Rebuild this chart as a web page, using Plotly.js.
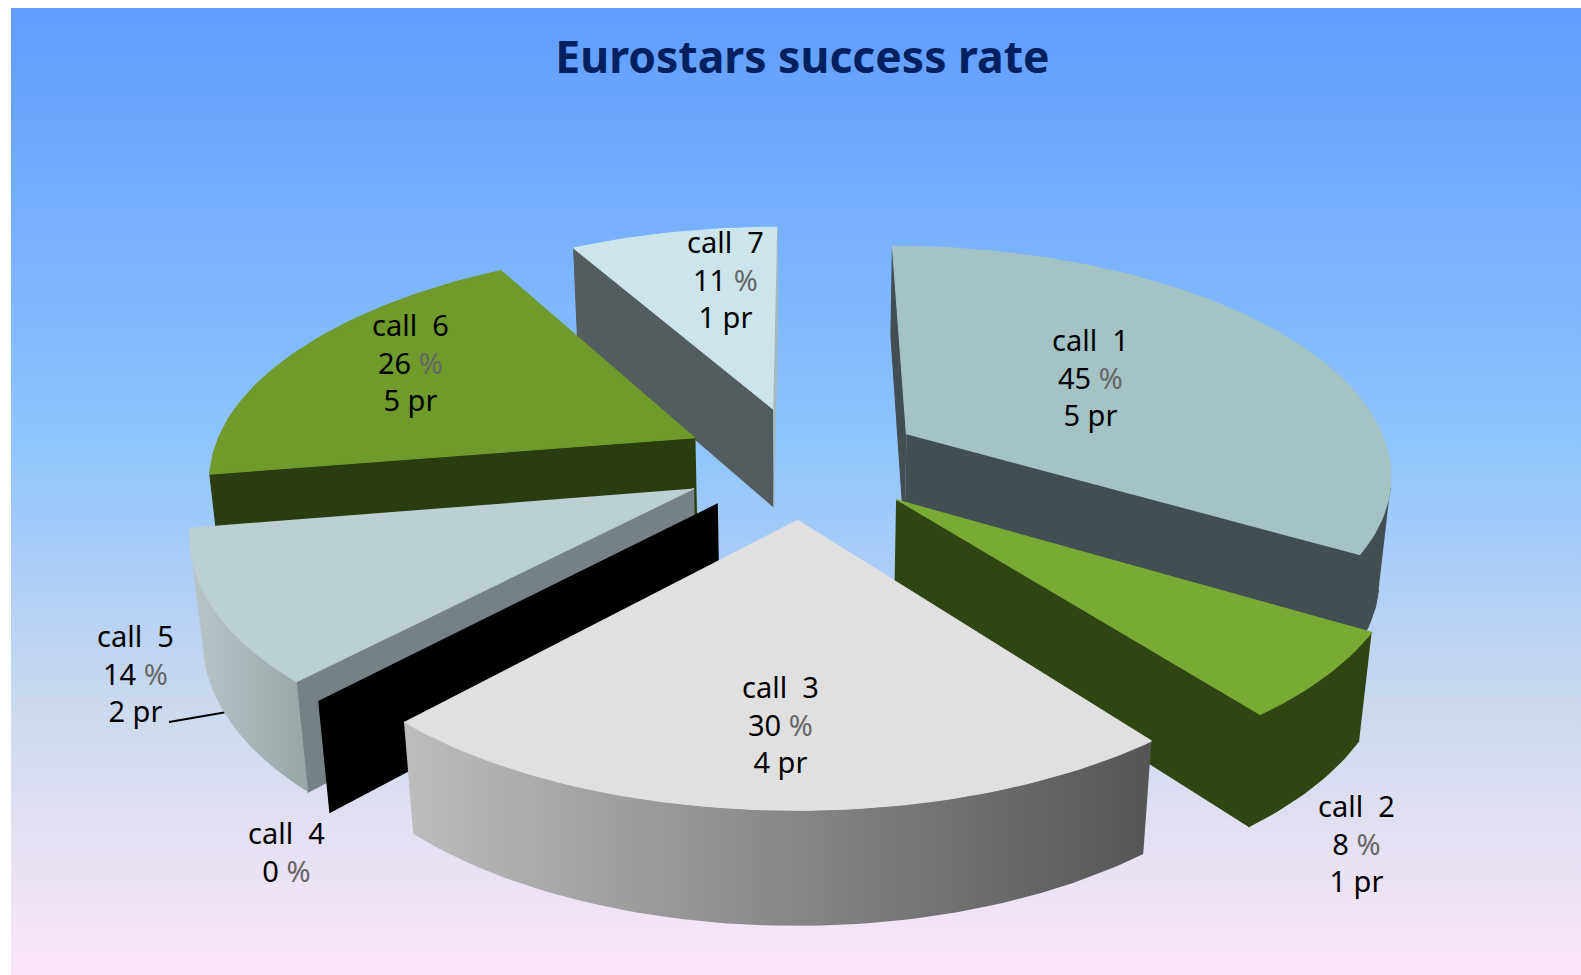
<!DOCTYPE html>
<html><head><meta charset="utf-8">
<script src="https://cdn.plot.ly/plotly-3.0.1.min.js"></script>
<style>
html,body{margin:0;padding:0;background:#fff;width:1581px;height:975px;overflow:hidden}
#bg{position:absolute;left:11px;top:8px;width:1570px;height:967px;background:linear-gradient(to bottom,#5f9dff 0%,#8fc4fd 45%,#cbd9ef 72%,#dfdff0 83%,#fbe7f9 100%)}
#chart{position:absolute;left:0;top:0;width:1581px;height:975px}
</style></head><body>
<div id="bg"></div><div id="chart"></div>
<script>
// ---- data ----
const calls = ['call 1','call 2','call 3','call 4','call 5','call 6','call 7'];
const rates = [45,8,30,0,14,26,11];
const projects = [5,1,4,0,2,5,1];

// ---- styles ----
const topColors = ['#a3c3c5','#78ab35','#e0e0e0','#000000','#bccfd3','#6f9a2c','#cbe5ea'];
const startWall = ['#414f52','#2f4613','#555555','#000000','#758184','#2b3d10','#535c5e'];
const endWall   = ['#414f52','#2f4613','#555555','#000000','#758184','#2b3d10','#a5babd'];
const rimLeft   = ['#414f52','#2f4613','#bdbdbd','#000000','#b8c6ca','#2b3d10','#a5babd'];
const rimRight  = ['#414f52','#2f4613','#555555','#000000','#98a6a6','#2b3d10','#a5babd'];
const paintOrder = [6,5,0,4,3,1,2];
const labelPos = [[1090,377],[1356,843],[780,724],[286,851],[135,673],[410,362],[725,279]];

// ---- projection of the tilted disc ----
const P = {cx:803, cy:461.5, B:485, A:225, k:0.155, kx:0.16, m:0.02, D:102.5, explode:0.25, start:0};
function proj(X,Y,Z){
  const s = 1/(1+P.k*Y+P.m*Z), sx = 1/(1+P.kx*Y+P.m*Z);
  return [P.cx+P.B*X*sx, P.cy-P.A*Y*s+P.D*Z*s];
}
const total = rates.reduce((a,b)=>a+b,0);
let acc = P.start;
const traces = [];
function poly(pts,color,grad){
  const t = {type:'scatter',mode:'lines',x:pts.map(p=>p[0]),y:pts.map(p=>p[1]),
    fill:'toself',line:{width:grad?0:1.1,color:color},hoverinfo:'skip',showlegend:false};
  if(grad) t.fillgradient={type:'horizontal',colorscale:[[0,grad[0]],[1,grad[1]]]};
  else t.fillcolor=color;
  return t;
}
function area(p){
  let s=0;
  for(let i=0;i<p.length;i++){const q=p[(i+1)%p.length]; s+=p[i][0]*q[1]-q[0]*p[i][1];}
  return s;
}
const slices = rates.map((v,i)=>{
  const a0 = acc, a1 = acc + v/total*2*Math.PI; acc = a1;
  return {i,a0,a1};
});
function leader(){
  return {type:'scatter',mode:'lines',x:[169,227],y:[722,712],line:{color:'#000',width:2},hoverinfo:'skip',showlegend:false};
}
paintOrder.forEach(i=>{
  const {a0,a1} = slices[i];
  const mid = (a0+a1)/2;
  const ox = P.explode*Math.sin(mid), oy = P.explode*Math.cos(mid);
  const n = Math.max(2,Math.ceil((a1-a0)/0.02));
  const arcAngles = [];
  for(let j=0;j<=n;j++) arcAngles.push(a0+(a1-a0)*j/n);
  const rimAt = (a,z)=>proj(ox+Math.sin(a),oy+Math.cos(a),z);
  const apex = z=>proj(ox,oy,z);
  if(i===4) traces.push(leader());
  // radial walls, only those facing the viewer
  const w0 = [apex(0),rimAt(a0,0),rimAt(a0,1),apex(1)];
  const w1 = [apex(0),rimAt(a1,0),rimAt(a1,1),apex(1)];
  if(area(w0)<0) traces.push(poly(w0,startWall[i]));
  if(area(w1)>0) traces.push(poly(w1,endWall[i]));
  if(a1>a0){
    const same = rimLeft[i]===rimRight[i];
    // keep only the part of the outer rim that faces the viewer
    const da = 0.01;
    const front = arcAngles.filter(a=>area([rimAt(a,0),rimAt(a+da,0),rimAt(a+da,1),rimAt(a,1)])<0);
    if(front.length>1){
      const pts = front.map(a=>rimAt(a,0)).concat(front.slice().reverse().map(a=>rimAt(a,1)));
      traces.push(same?poly(pts,rimLeft[i]):poly(pts,rimLeft[i],[rimLeft[i],rimRight[i]]));
    }
    const top = [apex(0)].concat(arcAngles.map(a=>rimAt(a,0)));
    traces.push(poly(top,topColors[i]));
  }
});

const pct = '<span style="color:#666666">%</span>';
const annotations = calls.map((c,i)=>({
  x:labelPos[i][0],y:labelPos[i][1],xref:'x',yref:'y',showarrow:false,xanchor:'center',yanchor:'middle',
  align:'center',font:{family:'"Noto Sans",sans-serif',size:29,color:'#000'},
  text:c.replace(' ','  ')+'<br>'+rates[i]+' '+pct+(projects[i]>0?'<br>'+projects[i]+' pr':'')
}));

Plotly.newPlot('chart',traces,{
  width:1581,height:975,margin:{l:0,r:0,t:0,b:0},
  paper_bgcolor:'rgba(0,0,0,0)',plot_bgcolor:'rgba(0,0,0,0)',
  xaxis:{range:[0,1581],visible:false,fixedrange:true},
  yaxis:{range:[975,0],visible:false,fixedrange:true},
  showlegend:false,annotations,
  title:{text:'<b>Eurostars success rate</b>',x:802.5/1581,xanchor:'center',y:1-57/975,yanchor:'middle',
    font:{family:'"Noto Sans",sans-serif',size:44.5,color:'#002060'}}
},{staticPlot:true,displayModeBar:false});
</script></body></html>
